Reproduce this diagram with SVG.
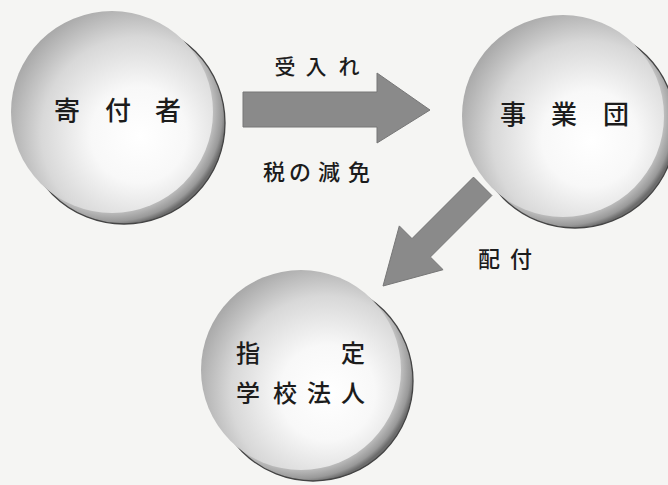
<svg xmlns="http://www.w3.org/2000/svg" width="668" height="485" viewBox="0 0 668 485">
  <defs>
    <radialGradient id="front" cx="0.62" cy="0.6" r="0.68" fx="0.64" fy="0.62">
      <stop offset="0" stop-color="#ffffff"/>
      <stop offset="0.35" stop-color="#f8f8f8"/>
      <stop offset="0.7" stop-color="#d8d8d8"/>
      <stop offset="1" stop-color="#a2a2a2"/>
    </radialGradient>
    <radialGradient id="back" cx="0.44" cy="0.44" r="0.57">
      <stop offset="0" stop-color="#dcdcdc"/>
      <stop offset="0.85" stop-color="#cbcbcb"/>
      <stop offset="0.96" stop-color="#999999"/>
      <stop offset="1" stop-color="#6c6c6c"/>
    </radialGradient>
    <style>
      .back { fill: url(#back); stroke: #444; stroke-width: 1.3; }
      .front { fill: url(#front); }
      .lbl { font-family: "Noto Sans CJK JP", "Noto Sans", sans-serif; font-weight: 500; fill: #1c1c1c; text-anchor: middle; }
      .arrow { fill: #8a8a8a; stroke: #777; stroke-width: 1; }
    </style>
  </defs>
  <rect width="668" height="485" fill="#f5f5f3"/>

  <g id="node-kifusha">
    <circle class="back" cx="124" cy="123" r="101"/>
    <circle class="front" cx="112" cy="112" r="101"/>
    <text class="lbl" font-size="26" x="67 118 168" y="120">寄付者</text>
  </g>

  <g id="node-jigyodan">
    <circle class="back" cx="575" cy="127" r="101"/>
    <circle class="front" cx="563" cy="116" r="101"/>
    <text class="lbl" font-size="26" x="513 564 616" y="124">事業団</text>
  </g>

  <g id="node-gakko">
    <circle class="back" cx="313" cy="381" r="100"/>
    <circle class="front" cx="301" cy="370" r="100"/>
    <text class="lbl" font-size="24" x="248 353" y="362">指定</text>
    <text class="lbl" font-size="24" x="248 285 319 353" y="402">学校法人</text>
  </g>

  <g id="connectors">
    <polygon class="arrow" points="243,92 377,92 377,73 430,110 377,143 377,127 243,127"/>
    <polygon class="arrow" points="383,286 399.3,225.9 412,238.6 473.5,177.1 491.9,195.5 430.4,257 443.1,269.7"/>
    <text class="lbl" font-size="21" x="285 316 349" y="74">受入れ</text>
    <text class="lbl" font-size="22" x="274 300 329 359" y="180">税の減免</text>
    <text class="lbl" font-size="22" x="489 521" y="267">配付</text>
  </g>
</svg>
